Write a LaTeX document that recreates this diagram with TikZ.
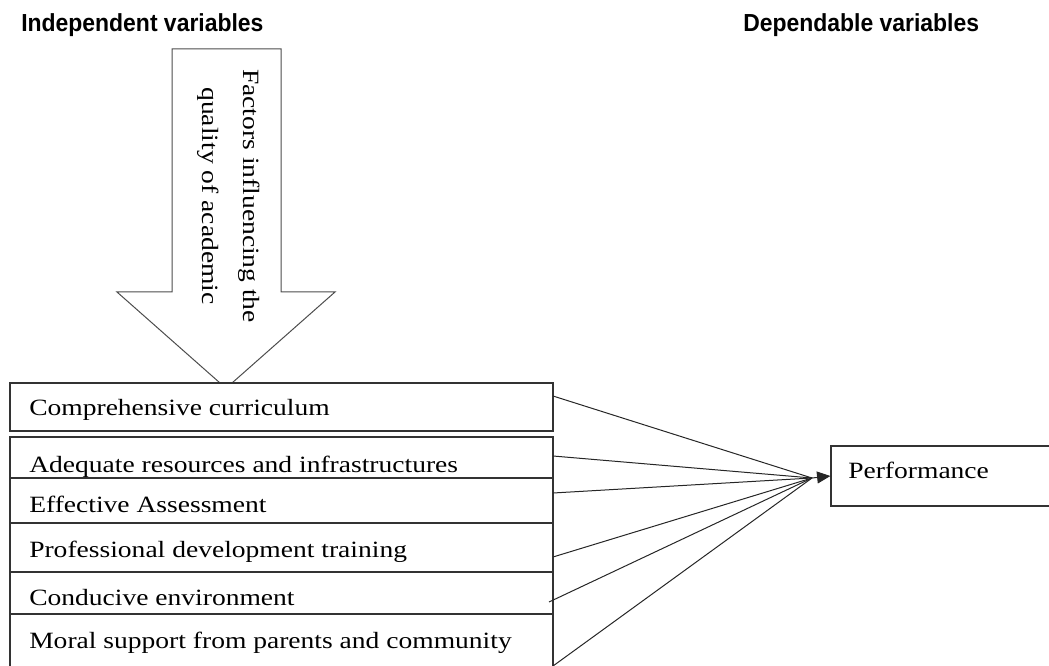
\documentclass[tikz,border=0pt]{standalone}
\usepackage{fontspec}
\usetikzlibrary{arrows.meta,fit}
\newfontfamily\boxfont[FakeStretch=1.18]{Liberation Serif}
\newfontfamily\headfont[FakeStretch=0.93]{Liberation Sans}
\tikzset{
  row/.style={draw=black!80, line width=0.9pt, inner sep=0pt},
  lbl/.style={anchor=base west, inner sep=0pt, font=\boxfont\fontsize{17.5}{21}\selectfont},
  head/.style={anchor=base west, inner sep=0pt, font=\headfont\bfseries\fontsize{18.5}{22}\selectfont},
  link/.style={draw=black!85, line width=0.75pt}
}
\begin{document}
\begin{tikzpicture}[x=0.75pt,y=-0.75pt]
  \path[use as bounding box, clip] (0,0) rectangle (1049,666);
  % headings
  \node[head] (indep) at (21,32) {Independent variables};
  \node[head] (dep) at (743,32) {Dependable variables};
  % big arrow
  \draw[draw=black!70, line width=0.75pt] (172,49) -- (281,49) -- (281,292) -- (335,292)
     -- (232,383) -- (220,383) -- (117,292) -- (172,292) -- cycle;
  \node[rotate=-90, align=center, inner sep=0pt,
        font=\boxfont\fontsize{17.5}{30.75}\selectfont] (factors) at (229,196)
        {Factors influencing the\\quality of academic};
  % independent variables
  \node[row, fit={(10,383) (553,431)}] (r1) {};
  \node[row, fit={(10,437) (553,478)}] (r2) {};
  \node[row, fit={(10,478) (553,523)}] (r3) {};
  \node[row, fit={(10,523) (553,572)}] (r4) {};
  \node[row, fit={(10,572) (553,614)}] (r5) {};
  \node[row, fit={(10,614) (553,700)}] (r6) {};
  \node[lbl] (t1) at (29,416) {Comprehensive curriculum};
  \node[lbl] (t2) at (29,472) {Adequate resources and infrastructures};
  \node[lbl] (t3) at (29,512) {Effective Assessment};
  \node[lbl] (t4) at (29,557) {Professional development training};
  \node[lbl] (t5) at (29,605) {Conducive environment};
  \node[lbl] (t6) at (29,648) {Moral support from parents and community};
  % dependent variable
  \node[row, fit={(831,446) (1080,506)}] (perf) {};
  \node[lbl] (tperf) at (848,478) {Performance};
  % connectors
  \coordinate (s1) at (553,396);
  \coordinate (s2) at (553,456);
  \coordinate (s3) at (553,493);
  \coordinate (s4) at (553,557);
  \coordinate (s5) at (549,602);
  \coordinate (s6) at (553,666);
  \coordinate (hub) at (812,478);
  \foreach \s in {s1,s2,s3,s4,s5,s6}
    \draw[link] (\s) -- (hub);
  \draw[link, -{Triangle[length=10pt,width=9pt]}] (hub) -- (perf.west);
\end{tikzpicture}
\end{document}
